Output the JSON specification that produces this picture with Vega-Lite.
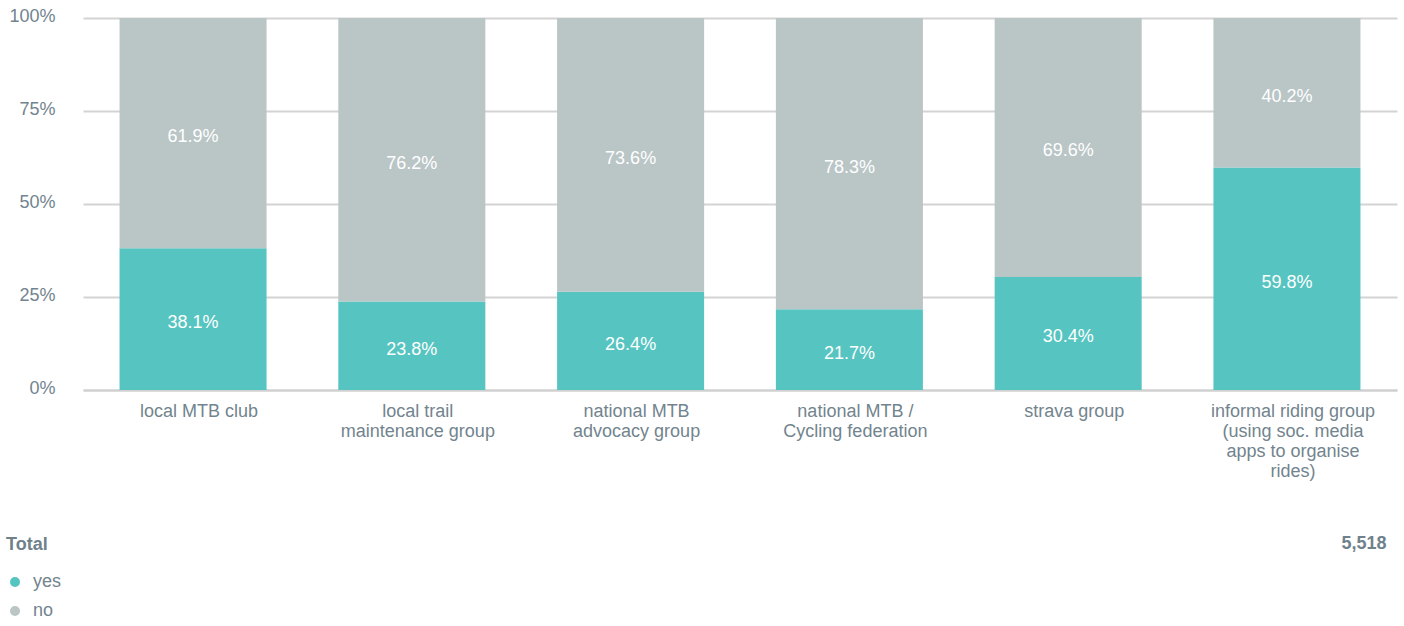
{
  "$schema": "https://vega.github.io/schema/vega-lite/v6.json",
  "autosize": "none",
  "width": 1314,
  "height": 372,
  "padding": {"left": 83, "top": 18, "right": 7, "bottom": 236},
  "background": "white",
  "config": {
    "view": {"stroke": null},
    "font": "Liberation Sans"
  },
  "data": {
    "values": [
      {"group": "local MTB club", "answer": "yes", "share": 0.381},
      {"group": "local MTB club", "answer": "no", "share": 0.619},
      {"group": "local trail maintenance group", "answer": "yes", "share": 0.238},
      {"group": "local trail maintenance group", "answer": "no", "share": 0.762},
      {"group": "national MTB advocacy group", "answer": "yes", "share": 0.264},
      {"group": "national MTB advocacy group", "answer": "no", "share": 0.736},
      {"group": "national MTB / Cycling federation", "answer": "yes", "share": 0.217},
      {"group": "national MTB / Cycling federation", "answer": "no", "share": 0.783},
      {"group": "strava group", "answer": "yes", "share": 0.304},
      {"group": "strava group", "answer": "no", "share": 0.696},
      {"group": "informal riding group (using soc. media apps to organise rides)", "answer": "yes", "share": 0.598},
      {"group": "informal riding group (using soc. media apps to organise rides)", "answer": "no", "share": 0.402}
    ]
  },
  "transform": [
    {"stack": "share", "groupby": ["group"], "sort": [{"field": "answer", "order": "descending"}], "offset": "normalize", "as": ["p0", "p1"]},
    {"calculate": "(datum.p0 + datum.p1) / 2", "as": "pmid"}
  ],
  "encoding": {
    "x": {
      "field": "group", "type": "nominal", "sort": null,
      "scale": {"paddingInner": 0.328, "paddingOuter": 0.167},
      "axis": {
        "title": "5,518",
        "titleAnchor": "end",
        "titleAlign": "right",
        "titleBaseline": "alphabetic",
        "titleX": 1303,
        "titleY": 158,
        "titleFontSize": 18,
        "titleFontWeight": "bold",
        "titleColor": "#6f818b",
        "labelAngle": 0,
        "labelFontSize": 18,
        "labelColor": "#72848e",
        "labelPadding": 12,
        "labelOffset": 6,
        "labelLineHeight": 20,
        "labelBaseline": "top",
        "labelLimit": 300,
        "labelExpr": "{'local MTB club':['local MTB club'],'local trail maintenance group':['local trail','maintenance group'],'national MTB advocacy group':['national MTB','advocacy group'],'national MTB / Cycling federation':['national MTB /','Cycling federation'],'strava group':['strava group'],'informal riding group (using soc. media apps to organise rides)':['informal riding group','(using soc. media','apps to organise','rides)']}[datum.value]",
        "ticks": false,
        "domain": true,
        "domainColor": "#d0d0d0",
        "domainWidth": 2
      }
    }
  },
  "layer": [
    {
      "mark": {"type": "bar"},
      "encoding": {
        "y": {
          "field": "p0", "type": "quantitative",
          "scale": {"domain": [0, 1]},
          "axis": {
            "title": null,
            "format": ".0%",
            "values": [0, 0.25, 0.5, 0.75, 1],
            "labelFontSize": 18,
            "labelColor": "#72848e",
            "labelPadding": 28,
            "labelAlign": "right",
            "labelOffset": -2,
            "ticks": false,
            "domain": false,
            "grid": true,
            "gridColor": "#d3d3d3",
            "gridWidth": 2
          }
        },
        "y2": {"field": "p1"},
        "color": {
          "field": "answer", "type": "nominal",
          "scale": {"domain": ["yes", "no"], "range": ["#56c4c0", "#bac5c6"]},
          "legend": {
            "title": "Total",
            "orient": "none",
            "legendX": -77,
            "legendY": 518,
            "direction": "vertical",
            "titleFontSize": 18,
            "titleFontWeight": "bold",
            "titleColor": "#6f818b",
            "titlePadding": 19,
            "symbolType": "circle",
            "symbolSize": 100,
            "symbolStrokeWidth": 0,
            "labelFontSize": 18,
            "labelColor": "#72848e",
            "labelOffset": 9,
            "rowPadding": 11
          }
        }
      }
    },
    {
      "mark": {"type": "text", "color": "white", "fontSize": 18, "baseline": "middle", "dy": 4},
      "encoding": {
        "y": {"field": "pmid", "type": "quantitative"},
        "text": {"field": "share", "type": "quantitative", "format": ".1%"}
      }
    }
  ]
}
